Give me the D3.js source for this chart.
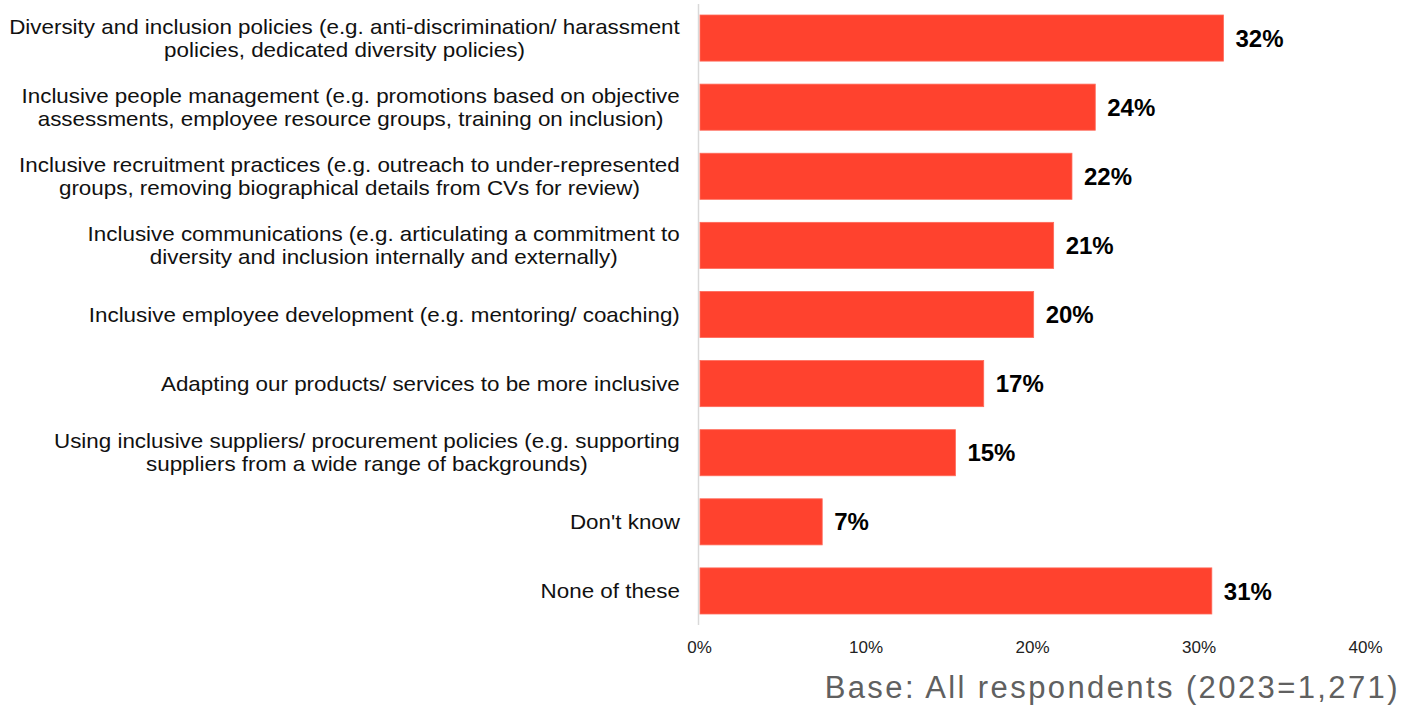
<!DOCTYPE html>
<html>
<head>
<meta charset="utf-8">
<script src="https://cdn.jsdelivr.net/npm/d3@7"></script>
<style>
  html, body { margin: 0; padding: 0; background: #ffffff; }
  svg { display: block; font-family: "Liberation Sans", Arial, sans-serif; }
</style>
</head>
<body>
<svg id="chart" width="1411" height="707"></svg>
<script>
// Share of respondents for each inclusion measure (percent)
const categories = [
  ["Diversity and inclusion policies (e.g. anti-discrimination/ harassment", "policies, dedicated diversity policies)"],
  ["Inclusive people management (e.g. promotions based on objective", "assessments, employee resource groups, training on inclusion)"],
  ["Inclusive recruitment practices (e.g. outreach to under-represented", "groups, removing biographical details from CVs for review)"],
  ["Inclusive communications (e.g. articulating a commitment to", "diversity and inclusion internally and externally)"],
  ["Inclusive employee development (e.g. mentoring/ coaching)"],
  ["Adapting our products/ services to be more inclusive"],
  ["Using inclusive suppliers/ procurement policies (e.g. supporting", "suppliers from a wide range of backgrounds)"],
  ["Don't know"],
  ["None of these"]
];
const values = [31.5, 23.8, 22.4, 21.3, 20.1, 17.1, 15.4, 7.4, 30.8];
const tickValues = [0, 10, 20, 30, 40];
const baseNote = "Base: All respondents (2023=1,271)";

const svg = d3.select("#chart");
const barColor = "#ff422e";

const x = d3.scaleLinear().domain([0, 40]).range([699, 1365]);
const y = d3.scaleBand()
  .domain(d3.range(categories.length))
  .range([3.5, 625.5])
  .paddingInner(0.333)
  .paddingOuter(0.1665);

// vertical baseline at 0%
svg.append("line")
  .attr("x1", x(0) - 0.5).attr("x2", x(0) - 0.5)
  .attr("y1", 4).attr("y2", 625)
  .attr("stroke", "#d9d9d9").attr("stroke-width", 1.5);

// bars
svg.append("g").selectAll("rect")
  .data(values)
  .join("rect")
  .attr("x", x(0) + 1)
  .attr("y", (d, i) => y(i))
  .attr("width", d => x(d) - x(0) - 1)
  .attr("height", y.bandwidth())
  .attr("fill", barColor)
  .attr("stroke", "#ff6a5a")
  .attr("stroke-width", 0.8);

// value labels
svg.append("g").selectAll("text")
  .data(values)
  .join("text")
  .attr("x", d => x(d) + 12)
  .attr("y", (d, i) => y(i) + y.bandwidth() / 2)
  .attr("dy", "0.36em")
  .attr("font-size", 24)
  .attr("font-weight", "bold")
  .attr("fill", "#000")
  .text(d => d3.format(".0f")(d) + "%");

// category labels: block right-aligned to the axis, lines centred within the block,
// set slightly wide
const labelRight = 680;
const lineGap = 23;
const stretch = 1.12;
const catG = svg.append("g").attr("font-size", 20).attr("fill", "#111");
categories.forEach((lines, i) => {
  const cy = y(i) + y.bandwidth() / 2;
  const g = catG.append("g");
  const texts = lines.map((t, k) => g.append("text")
    .attr("dy", "0.35em")
    .attr("text-anchor", "middle")
    .text(t));
  const maxW = d3.max(texts, t => t.node().getComputedTextLength()) * stretch;
  texts.forEach((t, k) => t.attr("transform",
    `translate(${labelRight - maxW / 2},${cy + (k - (lines.length - 1) / 2) * lineGap}) scale(${stretch},1)`));
});

// x axis tick labels
const axis = d3.axisBottom(x)
  .tickValues(tickValues)
  .tickSize(0)
  .tickPadding(0)
  .tickFormat(d => d + "%");
const axG = svg.append("g")
  .attr("transform", "translate(0,641)")
  .call(axis);
axG.select(".domain").remove();
axG.selectAll("text")
  .attr("font-size", 17)
  .attr("font-family", "'Liberation Sans', Arial, sans-serif")
  .attr("fill", "#222");

// base note
svg.append("text")
  .attr("x", 1400)
  .attr("y", 698)
  .attr("text-anchor", "end")
  .attr("font-size", 31)
  .attr("fill", "#606060")
  .attr("letter-spacing", 2.4)
  .text(baseNote);
</script>
</body>
</html>
